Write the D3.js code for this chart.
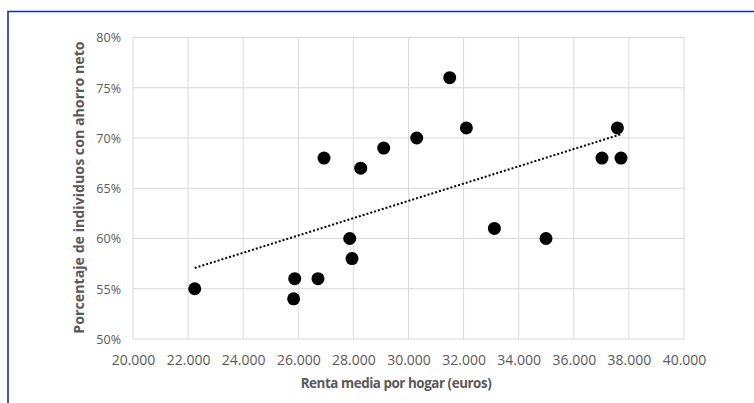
<!DOCTYPE html>
<html>
<head>
<meta charset="utf-8">
<script src="https://cdn.jsdelivr.net/npm/d3@7/dist/d3.min.js"></script>
<style>
  html, body { margin: 0; padding: 0; background: #fff; }
  svg { display: block; }
</style>
</head>
<body>
<svg id="chart" width="754" height="403"></svg>
<script>
// Renta media por hogar (euros) y porcentaje de individuos con ahorro neto
const renta = [22240, 25870, 25830, 26715, 27866, 27950, 26933, 28265, 29100,
               30298, 31496, 32101, 33118, 34991, 37583, 37024, 37713];
const ahorro = [55, 56, 54, 56, 60, 58, 68, 67, 69,
                70, 76, 71, 61, 60, 71, 68, 68];

const xTicks = [20000, 22000, 24000, 26000, 28000, 30000, 32000, 34000, 36000, 38000, 40000];
const yTicks = [50, 55, 60, 65, 70, 75, 80];

const xTitle = "Renta media por hogar (euros)";
const yTitle = "Porcentaje de individuos con ahorro neto";

const svg = d3.select("#chart");
const plot = { left: 133, right: 684, top: 37.5, bottom: 339 };

const x = d3.scaleLinear().domain([20000, 40000]).range([plot.left, plot.right]);
const y = d3.scaleLinear().domain([50, 80]).range([plot.bottom, plot.top]);

// Outer frame (top and left edges)
svg.append("path")
  .attr("d", `M8,${403} L8,11.5 L754,11.5`)
  .attr("fill", "none")
  .attr("stroke", "#1b2f9c")
  .attr("stroke-width", 1.6);

// Thousands with a dot separator: 20000 -> "20.000"
const fmtX = v => {
  const s = String(v);
  return s.slice(0, s.length - 3) + "." + s.slice(-3);
};

// Gridlines
const grid = svg.append("g");
grid.selectAll("line.v").data(xTicks).join("line")
  .attr("class", "v")
  .attr("x1", d => x(d)).attr("x2", d => x(d))
  .attr("y1", plot.top).attr("y2", plot.bottom)
  .attr("stroke", "#d9d9d9").attr("stroke-width", 1);
grid.selectAll("line.h").data(yTicks).join("line")
  .attr("class", "h")
  .attr("x1", plot.left).attr("x2", plot.right)
  .attr("y1", d => y(d)).attr("y2", d => y(d))
  .attr("stroke", "#d9d9d9").attr("stroke-width", 1);

// Axes (labels only, no domain lines)
const xAxis = d3.axisBottom(x).tickValues(xTicks).tickFormat(fmtX).tickSize(0).tickPadding(0);
const yAxis = d3.axisLeft(y).tickValues(yTicks).tickFormat(d => d + "%").tickSize(0).tickPadding(0);

const gx = svg.append("g").attr("transform", `translate(0,${plot.bottom + 26})`).call(xAxis);
gx.select(".domain").remove();
gx.selectAll("text")
  .attr("dy", 0)
  .attr("font-family", "'Open Sans', sans-serif")
  .attr("font-size", 14)
  .attr("fill", "#595959");

const gy = svg.append("g").attr("transform", `translate(${plot.left - 12},0)`).call(yAxis);
gy.select(".domain").remove();
gy.selectAll("text")
  .attr("dy", "0.35em")
  .attr("font-family", "'Open Sans', sans-serif")
  .attr("font-size", 12.5)
  .attr("fill", "#595959");

// Axis titles
svg.append("text")
  .attr("x", 396).attr("y", 388)
  .attr("text-anchor", "middle")
  .attr("font-family", "'Open Sans', sans-serif")
  .attr("font-weight", "bold")
  .attr("font-size", 13.4)
  .attr("letter-spacing", "-0.45px")
  .attr("fill", "#595959")
  .text(xTitle);

svg.append("text")
  .attr("transform", `translate(84,${(43 + 332) / 2}) rotate(-90)`)
  .attr("text-anchor", "middle")
  .attr("font-family", "'Open Sans', sans-serif")
  .attr("font-weight", "bold")
  .attr("font-size", 14.2)
  .attr("fill", "#595959")
  .text(yTitle);

// Linear trend (least squares) over the observed range
const n = renta.length;
const mx = d3.mean(renta), my = d3.mean(ahorro);
let sxy = 0, sxx = 0;
for (let i = 0; i < n; i++) {
  sxy += (renta[i] - mx) * (ahorro[i] - my);
  sxx += (renta[i] - mx) ** 2;
}
const slope = sxy / sxx, intercept = my - slope * mx;
const [x0, x1] = d3.extent(renta);
svg.append("line")
  .attr("x1", x(x0)).attr("y1", y(intercept + slope * x0))
  .attr("x2", x(x1)).attr("y2", y(intercept + slope * x1))
  .attr("stroke", "#000")
  .attr("stroke-width", 2)
  .attr("stroke-dasharray", "2,2");

// Points
svg.append("g").selectAll("circle").data(renta).join("circle")
  .attr("cx", d => x(d))
  .attr("cy", (d, i) => y(ahorro[i]))
  .attr("r", 6.5)
  .attr("fill", "#000");
</script>
</body>
</html>
